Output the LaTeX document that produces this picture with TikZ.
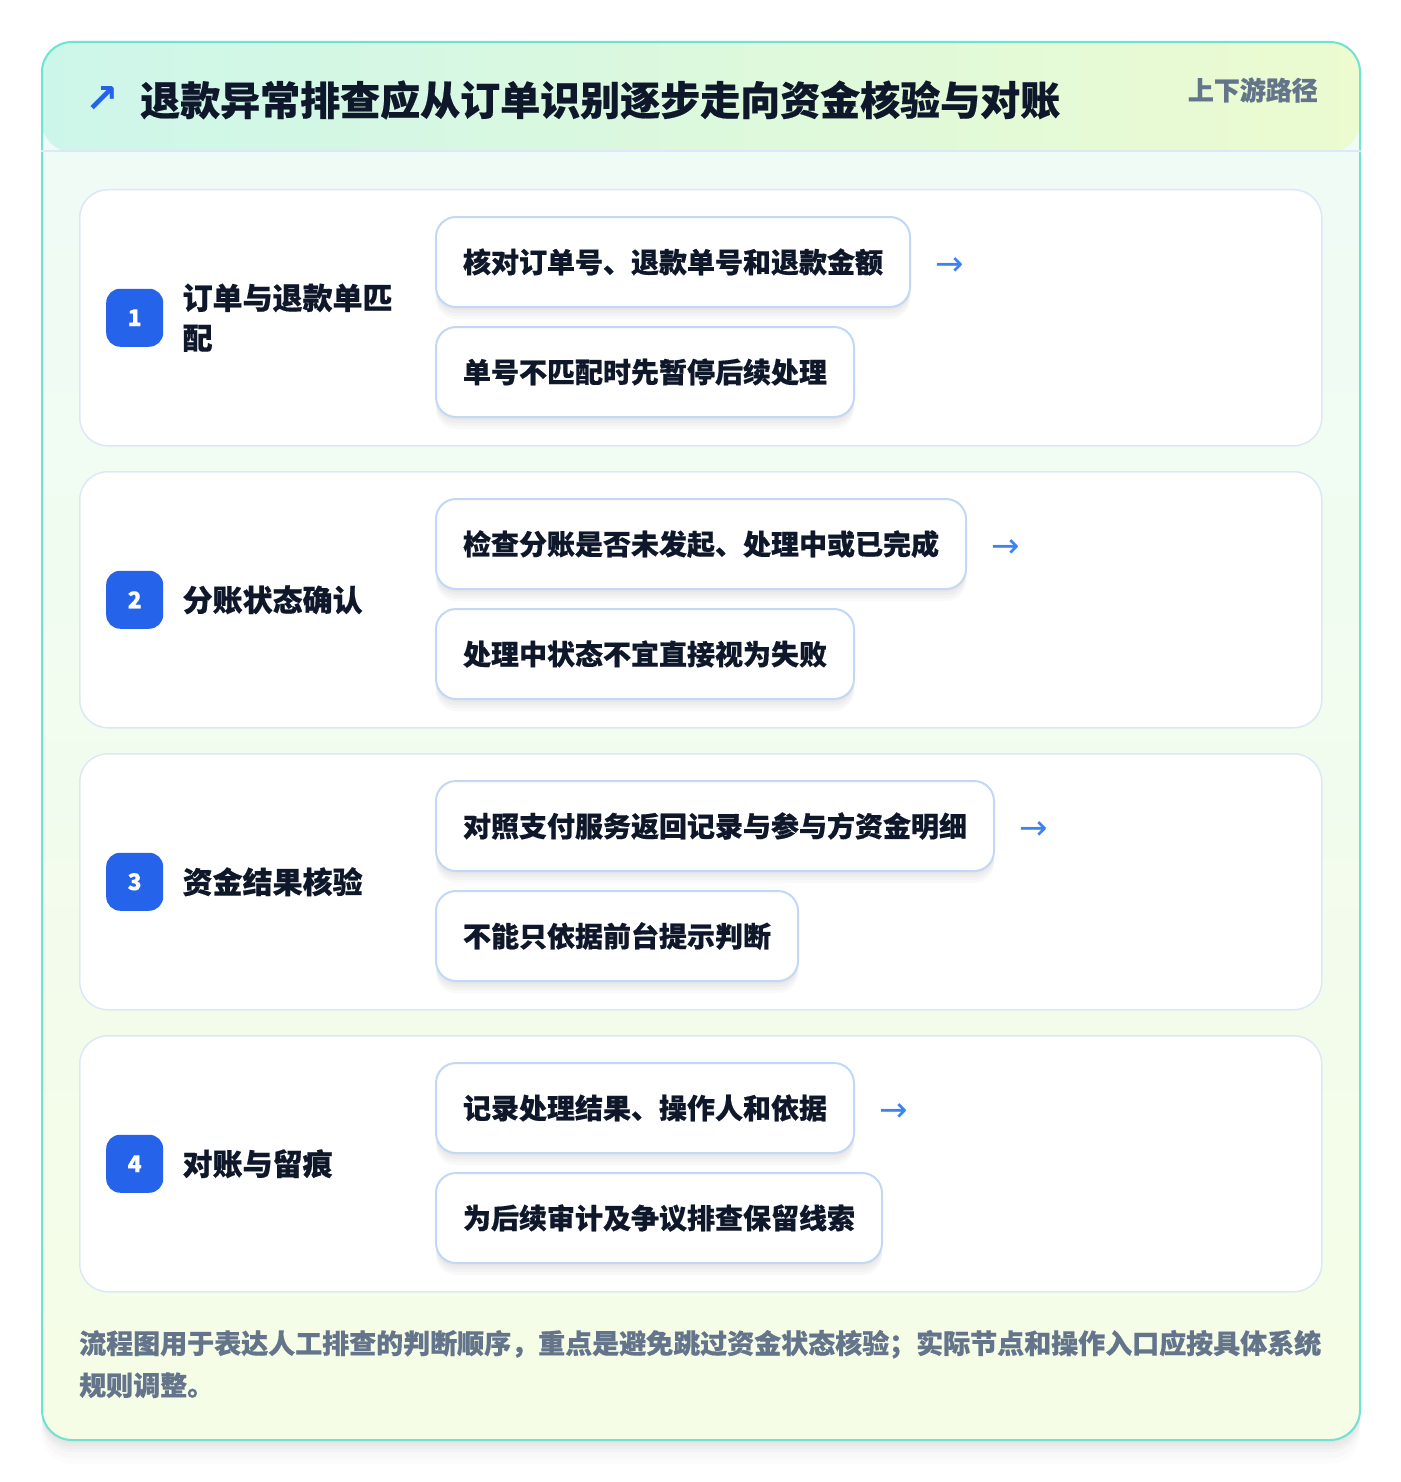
\documentclass[tikz,border=0pt]{standalone}
\usepackage{fontspec}
\setmainfont{Noto Sans CJK SC}[BoldFeatures={FakeBold=0.5}]
\newfontfamily\symbolfont{DejaVu Sans}
\usetikzlibrary{positioning}

\definecolor{ink}{HTML}{0F172A}
\definecolor{slate}{HTML}{64748B}
\definecolor{badgeblue}{HTML}{2563EB}
\definecolor{arrowblue}{HTML}{3B82F6}
\definecolor{paneledge}{HTML}{DCE8F8}
\definecolor{boxedge}{HTML}{C2D8F6}
\definecolor{cardedge}{HTML}{6EE3D0}
\definecolor{mint}{HTML}{CDF6EA}
\definecolor{lime}{HTML}{ECFBD0}
\definecolor{bodytop}{HTML}{EFFBF7}
\definecolor{bodybot}{HTML}{F5FDE6}

\tikzset{
  softshadow/.style={
    preaction={fill=black, opacity=#1, transform canvas={yshift=-3pt}},
    preaction={fill=black, opacity=#1, transform canvas={yshift=-6pt}},
    preaction={fill=black, opacity=#1, transform canvas={yshift=-9pt}},
    preaction={fill=black, opacity=#1, transform canvas={yshift=-12pt}}},
  card/.style={draw=cardedge, line width=2pt, rounded corners=30pt,
    minimum width=1318pt, minimum height=1398pt, anchor=north west,
    softshadow=0.018,
    preaction={fill=black, opacity=0.015, transform canvas={yshift=-18pt}},
    preaction={fill=black, opacity=0.012, transform canvas={yshift=-24pt}},
    top color=bodytop, bottom color=bodybot,
    path picture={\shade[left color=mint, right color=lime]
      (path picture bounding box.north west) rectangle
      ([yshift=-110pt]path picture bounding box.north east);}},
  panel/.style={draw=paneledge, line width=1.5pt, fill=white, rounded corners=28pt,
    minimum width=1242pt, minimum height=256pt, anchor=north west},
  badgebox/.style={fill=badgeblue, rounded corners=14pt, minimum width=57pt,
    minimum height=58pt, inner sep=0pt, text=white,
    font=\fontsize{23}{26}\selectfont\bfseries},
  steplabel/.style={anchor=west, text=ink, align=left, inner sep=0pt,
    font=\fontsize{30}{40}\selectfont\bfseries},
  itembox/.style={softshadow=0.022, draw=boxedge, line width=2pt, fill=white, rounded corners=20pt,
    minimum height=90pt, inner xsep=27pt, text=ink,
    font=\fontsize{28}{34}\selectfont\bfseries},
  nextarrow/.style={text=arrowblue, inner sep=0pt, font=\symbolfont\fontsize{34}{36}\selectfont},
  note/.style={text=slate, align=left, inner sep=0pt, anchor=west,
    font=\fontsize{27}{42}\selectfont\bfseries}
}

\begin{document}
\begin{tikzpicture}[x=1pt,y=-1pt]
  \fill[white] (0,0) rectangle (1400,1482);
  \useasboundingbox (0,0) rectangle (1400,1482);

  % card and header
  \node[card] (card) at (41,41) {};
  \draw[paneledge, line width=1.5pt] ([yshift=-110pt]card.north west) -- ([yshift=-110pt]card.north east);
  \node[text=badgeblue, inner sep=0pt, font=\symbolfont\fontsize{40}{42}\selectfont\bfseries] (icon) at (102,100) {↗};
  \node[anchor=west, inner sep=0pt, text=ink, font=\fontsize{40}{48}\selectfont\bfseries] (title) at (140,100)
    {退款异常排查应从订单识别逐步走向资金核验与对账};
  \node[anchor=east, inner sep=0pt, text=slate, font=\fontsize{26}{30}\selectfont\bfseries] (tag) at (1318,90) {上下游路径};

  % steps
  \foreach \i/\name/\first/\second in {
    1/{订单与退款单匹\\配}/{核对订单号、退款单号和退款金额}/{单号不匹配时先暂停后续处理},
    2/{分账状态确认}/{检查分账是否未发起、处理中或已完成}/{处理中状态不宜直接视为失败},
    3/{资金结果核验}/{对照支付服务返回记录与参与方资金明细}/{不能只依据前台提示判断},
    4/{对账与留痕}/{记录处理结果、操作人和依据}/{为后续审计及争议排查保留线索}}{
    \node[panel] (p\i) at (79,{189+(\i-1)*282}) {};
    \node[badgebox, right=27pt of p\i.west] (b\i) {\i};
    \node[steplabel, right=19pt of b\i.east] (l\i) {\name};
    \node[itembox, anchor=north west] (a\i) at ([xshift=356pt,yshift=-27pt]p\i.north west) {\first};
    \node[itembox, below=18pt of a\i.south west, anchor=north west] (c\i) {\second};
    \node[nextarrow, right=24pt of a\i.east, anchor=west, yshift=-5pt] (n\i) {→};
  }

  % footnote
  \node[note] (note) at (79,1364)
    {流程图用于表达人工排查的判断顺序，重点是避免跳过资金状态核验；实际节点和操作入口应按具体系统\\规则调整。};
\end{tikzpicture}
\end{document}
